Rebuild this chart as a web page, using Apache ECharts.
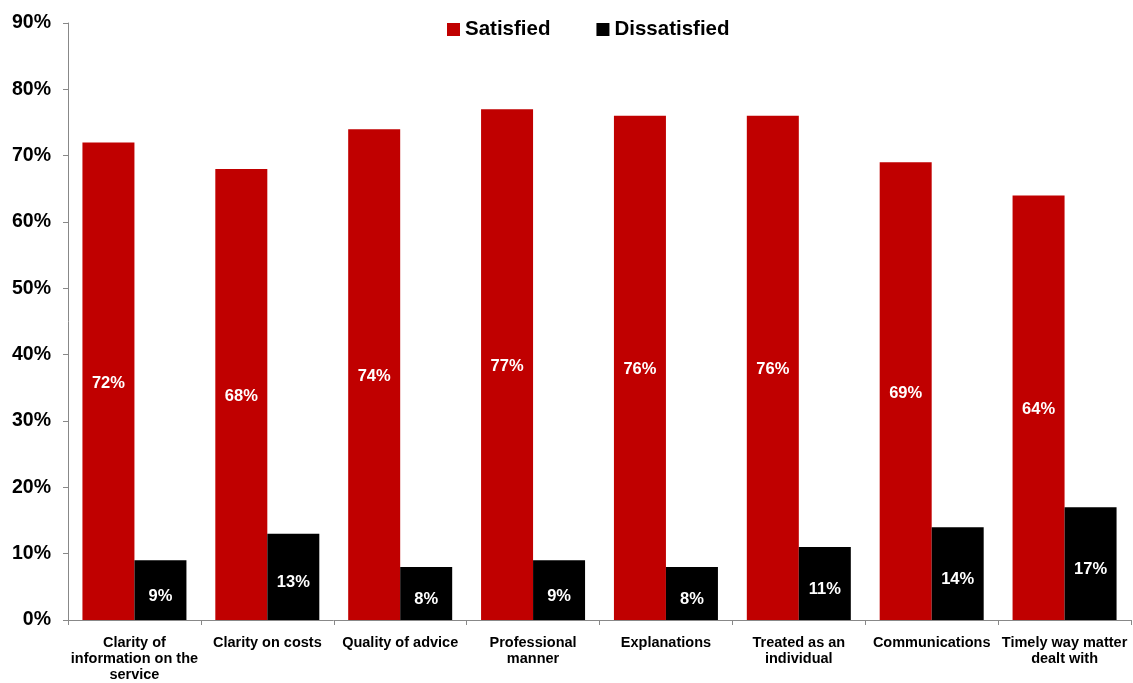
<!DOCTYPE html>
<html>
<head>
<meta charset="utf-8">
<script src="https://cdn.jsdelivr.net/npm/echarts@6/dist/echarts.min.js"></script>
<style>
  html, body { margin: 0; padding: 0; background: #fff; }
  #chart { width: 1133px; height: 683px; }
</style>
</head>
<body>
<div id="chart"></div>
<script>
// Survey aspects, with line breaks as they wrap under the axis
const categories = [
  'Clarity of\ninformation on the\nservice',
  'Clarity on costs',
  'Quality of advice',
  'Professional\nmanner',
  'Explanations',
  'Treated as an\nindividual',
  'Communications',
  'Timely way matter\ndealt with'
];
const satisfied = [72, 68, 74, 77, 76, 76, 69, 64];
const dissatisfied = [9, 13, 8, 9, 8, 11, 14, 17];

const FONT = '"Liberation Sans", Arial, sans-serif';

const chart = echarts.init(document.getElementById('chart'), null, { renderer: 'canvas' });

const barLabel = (offset) => ({
  show: true,
  position: 'inside',
  offset: offset,
  color: '#fff',
  fontFamily: FONT,
  fontWeight: 'bold',
  fontSize: 16.5,
  formatter: '{c}%'
});

chart.setOption({
  animation: false,
  backgroundColor: '#fff',
  legend: {
    top: 19,
    left: 447,
    padding: 0,
    itemWidth: 13,
    itemHeight: 13,
    itemGap: 46,
    icon: 'rect',
    textStyle: { fontFamily: FONT, fontWeight: 'bold', fontSize: 20.5, color: '#000' },
    data: ['Satisfied', 'Dissatisfied']
  },
  grid: { left: 68, right: 2, top: 23, bottom: 57, containLabel: false },
  xAxis: {
    type: 'category',
    data: categories,
    axisLine: { lineStyle: { color: '#888', width: 1 } },
    axisTick: { show: true, alignWithLabel: false, length: 5, lineStyle: { color: '#888' } },
    axisLabel: {
      interval: 0,
      margin: 15,
      color: '#000',
      fontFamily: FONT,
      fontWeight: 'bold',
      fontSize: 14.5,
      lineHeight: 16
    }
  },
  yAxis: {
    type: 'value',
    min: 0,
    max: 90,
    interval: 10,
    splitLine: { show: false },
    axisLine: { show: true, lineStyle: { color: '#888', width: 1 } },
    axisTick: { show: true, length: 5, lineStyle: { color: '#888' } },
    axisLabel: {
      formatter: '{value}%',
      margin: 17,
      color: '#000',
      fontFamily: FONT,
      fontWeight: 'bold',
      fontSize: 19.5
    }
  },
  series: [
    {
      name: 'Satisfied',
      type: 'bar',
      data: satisfied,
      barWidth: 52,
      barGap: '0%',
      itemStyle: { color: '#C00000' },
      label: barLabel([0, 2])
    },
    {
      name: 'Dissatisfied',
      type: 'bar',
      data: dissatisfied,
      barWidth: 52,
      barGap: '0%',
      itemStyle: { color: '#000000' },
      label: barLabel([0, 6])
    }
  ]
});
</script>
</body>
</html>
